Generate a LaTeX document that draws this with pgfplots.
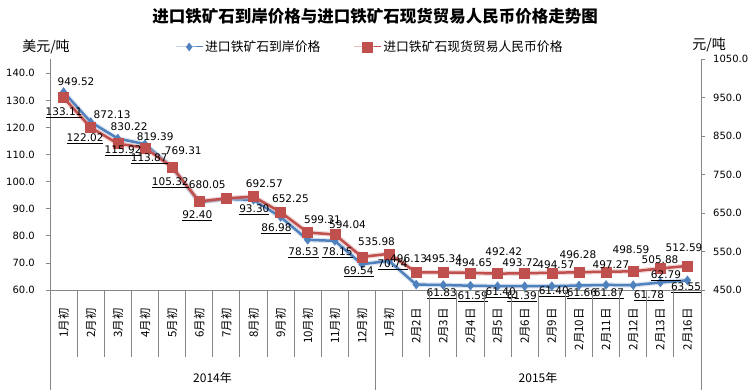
\documentclass[border=0pt]{standalone}
\usepackage{fontspec}
\setmainfont{DejaVu Sans}
\newfontfamily\cjk{Noto Sans CJK SC}
\usepackage{pgfplots}
\pgfplotsset{compat=1.18}
\usepackage{pgfplotstable}
\definecolor{exblue}{HTML}{4F81BD}
\definecolor{exred}{HTML}{C0504D}
\definecolor{axgray}{HTML}{868686}

\pgfplotstableread{
x y
0 133.11
1 122.02
2 115.92
3 113.87
4 105.32
5 92.40
6 93.60
7 93.30
8 86.98
9 78.53
10 78.15
11 69.54
12 70.74
13 62.00
14 61.83
15 61.59
16 61.40
17 61.39
18 61.40
19 61.66
20 61.87
21 61.78
22 62.79
23 63.55
}\usdata

\pgfplotstableread{
x y
0 949.52
1 872.13
2 830.22
3 819.39
4 769.31
5 680.05
6 688.00
7 692.57
8 652.25
9 599.31
10 594.04
11 535.98
12 544.00
13 496.13
14 495.34
15 494.65
16 492.42
17 493.72
18 494.57
19 496.28
20 497.27
21 498.59
22 505.88
23 512.59
}\rmbdata

\pgfplotstableread{
x y lab dx up
0 133.11 133.11 0.5 -20.6
1 122.02 122.02 -5.6 -16.6
2 115.92 115.92 5.3 -12
3 113.87 113.87 4.3 -14.5
4 105.32 105.32 -1.8 -15.3
5 92.40 92.40 -1.9 -13.3
7 93.30 93.30 0.9 -9.7
8 86.98 86.98 -4.1 -11.6
9 78.53 78.53 -4.2 -12.7
10 78.15 78.15 2.7 -11.7
11 69.54 69.54 -3.4 -7.4
12 70.74 70.74 3.5 -3.6
14 61.83 61.83 -1.6 -8.5
15 61.59 61.59 2.3 -10.8
16 61.40 61.40 3.2 -6.3
17 61.39 61.39 -2.9 -10.3
18 61.40 61.40 2 -5.3
19 61.66 61.66 3 -8
20 61.87 61.87 2.9 -8.6
21 61.78 61.78 15.8 -10.3
22 62.79 62.79 5.7 6.9
23 63.55 63.55 -1.4 -7.1
}\uslab

\pgfplotstableread{
x y lab dx up
0 949.52 949.52 12.5 15.8
1 872.13 872.13 21.4 12.6
2 830.22 830.22 11.3 16.8
3 819.39 819.39 10.3 11
4 769.31 769.31 11.2 16.3
5 680.05 680.05 8.1 16.7
7 692.57 692.57 10.9 12.9
8 652.25 652.25 9.9 13.5
9 599.31 599.31 14.8 12.9
10 594.04 594.04 12.7 9.9
11 535.98 535.98 14.6 15.3
13 496.13 496.13 -7.6 13.7
14 495.34 495.34 0.4 14
15 494.65 494.65 3.3 10.3
16 492.42 492.42 6.2 22.1
17 493.72 493.72 -3.9 10.6
18 494.57 494.57 4 8.3
19 496.28 496.28 -1 17.6
20 497.27 497.27 4.9 7.3
21 498.59 498.59 -2.2 21.8
22 505.88 505.88 -0.3 8.9
23 512.59 512.59 -3.4 18.4
}\rmblab

\pgfplotsset{
  base/.style={
    at={(50pt,100pt)}, anchor=south west,
    scale only axis, width=651pt, height=231pt,
    xmin=-0.5, xmax=23.5, clip=false,
    axis line style={axgray, line width=0.8pt},
    tick style={axgray, line width=0.8pt},
    tick align=outside, major tick length=4pt,
    /pgf/number format/.cd, fixed, fixed zerofill, precision=1, 1000 sep={}, assume math mode=true,
  },
  lbl/.style={draw=none, mark=none, forget plot, point meta=explicit symbolic,
    visualization depends on={\thisrow{dx} \as \ldx},
    visualization depends on={\thisrow{up} \as \lup},
    every node near coord/.append style={anchor=center, xshift=\ldx pt, yshift=\lup pt,
      font=\fontsize{10.5}{12}\selectfont, inner sep=0pt, text=black}},
}

\begin{document}
\begin{tikzpicture}
% left axis (USD)
\begin{axis}[base,
  ymin=60, ymax=145.3,
  axis x line*=bottom, axis y line*=left,
  ytick={60,70,...,140},
  yticklabel style={anchor=east, inner sep=0pt, xshift=-11pt, font=\fontsize{10}{12}\selectfont},
  xtick={0,...,23},
  xticklabels={1月初,2月初,3月初,4月初,5月初,6月初,7月初,8月初,9月初,10月初,11月初,12月初,1月初,2月2日,2月3日,2月4日,2月5日,2月6日,2月9日,2月10日,2月11日,2月12日,2月13日,2月16日},
  x tick style={draw=none},
  xticklabel style={yshift=-14pt, rotate=90, anchor=east, inner sep=0pt, font=\cjk\fontsize{11.5}{12}\selectfont},
]
\addplot[exblue!40, line width=5pt, opacity=0.5, forget plot, mark=none] table[x=x,y=y] {\usdata};
\addplot[exblue, line width=2.5pt, mark=diamond*, mark size=4.5pt, mark options={fill=exblue, draw=exblue, line width=0.4pt}, forget plot] table[x=x,y=y] {\usdata};
\end{axis}
% right axis (RMB)
\begin{axis}[base,
  ymin=450, ymax=1050,
  axis y line*=right, axis x line=none,
  ytick={450,550,...,1050},
  yticklabel style={anchor=west, inner sep=0pt, xshift=8pt, font=\fontsize{10}{12}\selectfont},
  legend style={at={(rel axis cs:0.192,1.052)}, anchor=west, draw=none, fill=none,
    legend columns=2, inner sep=0pt,
    font=\cjk\fontsize{12.8}{14}\selectfont,
    /tikz/every even column/.append style={column sep=31pt}},
  legend cell align=left,
  legend image code/.code={\draw[mark repeat=2, mark phase=2, #1] plot coordinates {(0pt,0pt) (13.5pt,0pt) (27pt,0pt)};},
]
\addlegendimage{exblue, line width=1pt, mark=diamond*, mark size=4pt, mark options={fill=exblue, draw=exblue, line width=0.4pt}}
\addlegendentry{进口铁矿石到岸价格}
\addlegendimage{exred, line width=1pt, mark=square*, mark size=4.8pt, mark options={fill=exred, draw=exred, line width=0.4pt}}
\addlegendentry{进口铁矿石现货贸易人民币价格}
\addplot[exred!45, line width=5pt, opacity=0.5, forget plot, mark=none] table[x=x,y=y] {\rmbdata};
\addplot[exred, line width=2.5pt, mark=square*, mark size=5pt, mark options={fill=exred, draw=exred, line width=0.4pt}, forget plot] table[x=x,y=y] {\rmbdata};
\addplot[lbl, nodes near coords={\pgfplotspointmeta}] table[x=x, y=y, meta=lab] {\rmblab};
\end{axis}
% labels for USD series on top
\begin{axis}[base, ymin=60, ymax=145.3, hide axis]
\addplot[lbl, nodes near coords={\underline{\pgfplotspointmeta}}] table[x=x, y=y, meta=lab] {\uslab};
\end{axis}
% title and units
\node[font=\cjk\bfseries\fontsize{16.5}{18}\selectfont] at (375pt,374pt) {进口铁矿石到岸价格与进口铁矿石现货贸易人民币价格走势图};
\node[font=\cjk\fontsize{14}{16}\selectfont] at (46pt,343pt) {美元/吨};
\node[font=\cjk\fontsize{14}{16}\selectfont] at (709pt,345pt) {元/吨};
% category separators and year dividers
\foreach \i in {1,...,23} {\draw[axgray, line width=0.8pt] ({50pt+27.125pt*\i},100pt) -- ({50pt+27.125pt*\i},33pt);}
\draw[axgray, line width=0.8pt] (50pt,100pt) -- (50pt,0pt);
\draw[axgray, line width=0.8pt] (375.5pt,100pt) -- (375.5pt,0pt);
\draw[axgray, line width=0.8pt] (701pt,100pt) -- (701pt,0pt);
\node[font=\cjk\fontsize{12}{14}\selectfont] at (212.5pt,12pt) {2014年};
\node[font=\cjk\fontsize{12}{14}\selectfont] at (538pt,12pt) {2015年};
\pgfresetboundingbox
\useasboundingbox (0pt,0pt) rectangle (751pt,390pt);
\end{tikzpicture}
\end{document}
